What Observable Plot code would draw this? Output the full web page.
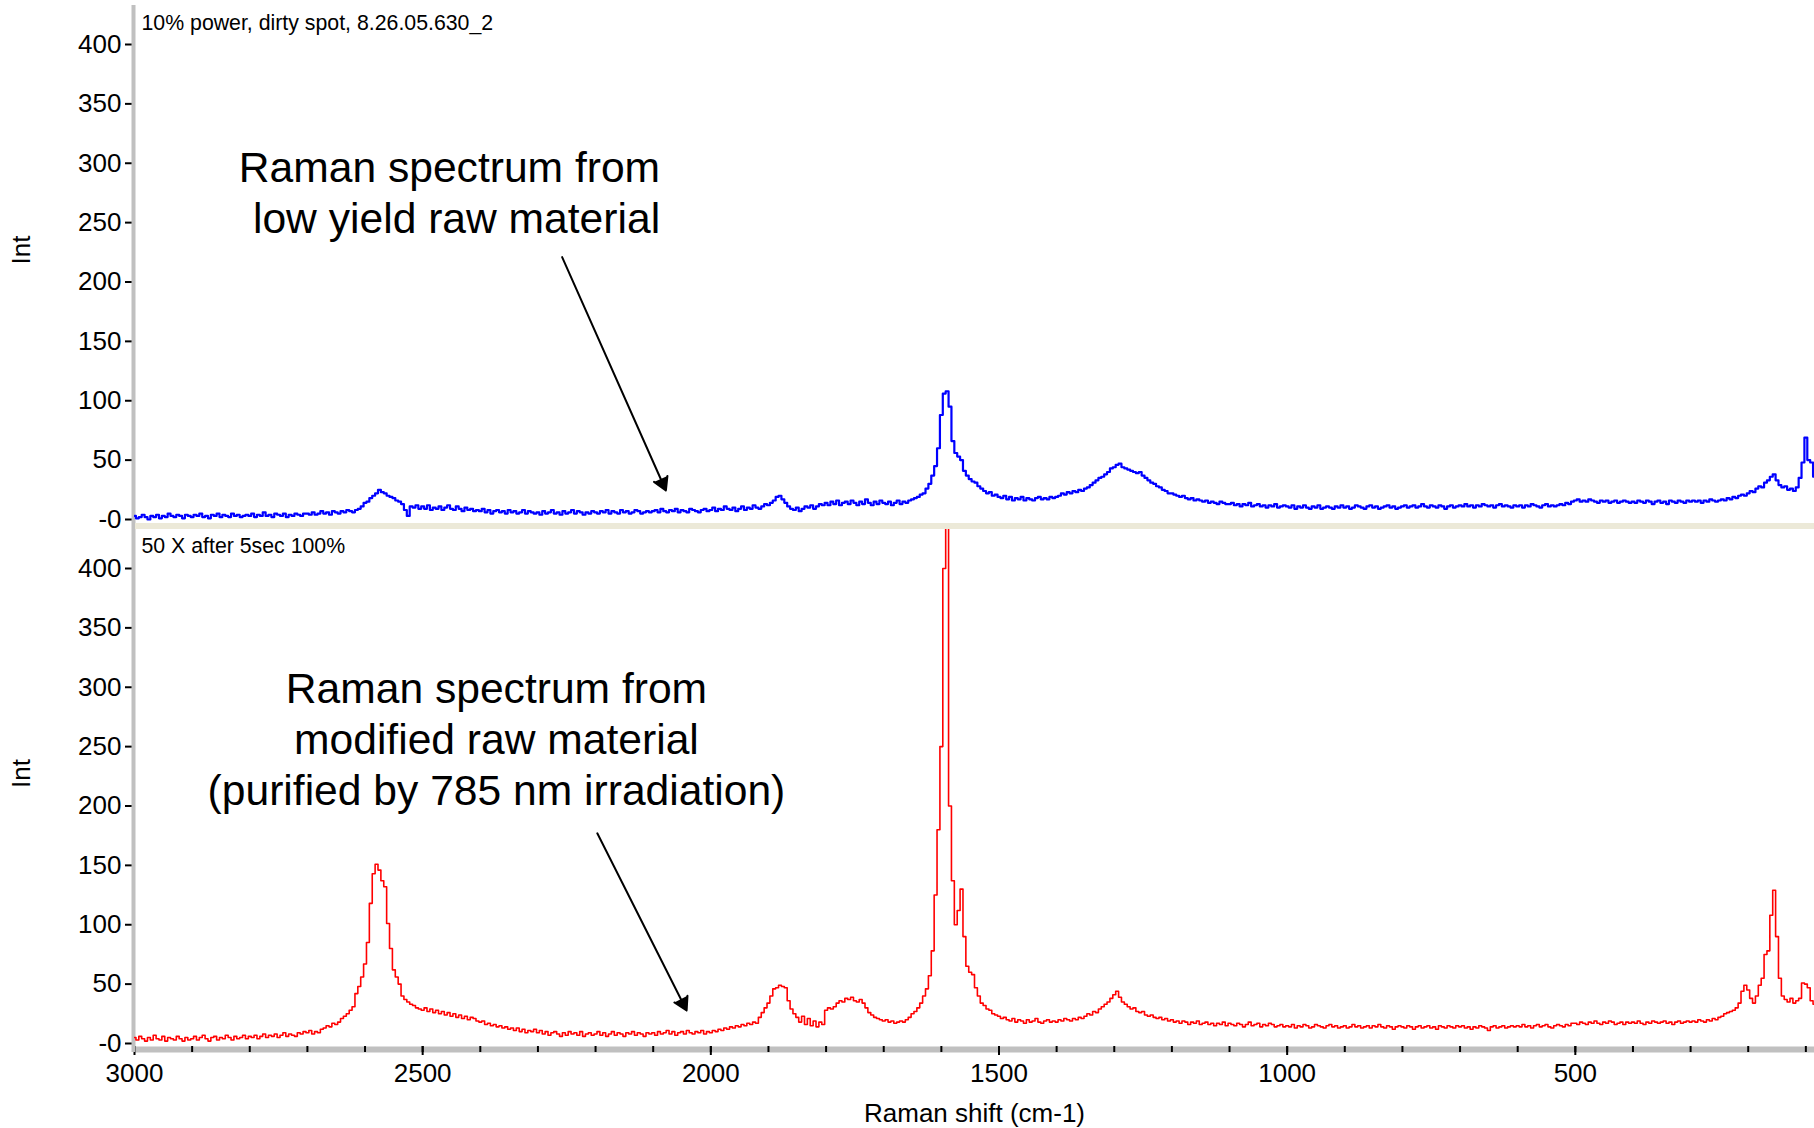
<!DOCTYPE html>
<html>
<head>
<meta charset="utf-8">
<script src="https://cdn.jsdelivr.net/npm/d3@7"></script>
<script src="https://cdn.jsdelivr.net/npm/@observablehq/plot@0.6"></script>
<style>
html, body { margin: 0; padding: 0; background: #fff; }
#chart { position: relative; width: 1814px; height: 1128px; overflow: hidden; background: #fff; }
#top { position: absolute; left: 0; top: 0; }
#bottom { position: absolute; left: 0; top: 523px; }
#sep { position: absolute; left: 135px; top: 523px; width: 1679px; height: 6px; background: #ece9d8; z-index: 5; }
</style>
</head>
<body>
<div id="chart"><div id="top"></div><div id="bottom"></div><div id="sep"></div></div>
<script>
// ---------- data ----------
// Raman shift grid: 3000 → 85 cm-1, every 5 cm-1 (584 samples)
const shiftStart = 3000, shiftStep = 5, shiftCount = 584;

// Top panel: "10% power, dirty spot" (blue) — 20 values per 100 cm-1
const intensityTop = [
  3,1,2,4,2,0,3,2,4,1,3,2,5,3,2,4,3,1,4,3,            // 3000-2905
  2,4,3,5,2,3,1,4,3,5,2,4,3,2,5,3,4,2,3,4,            // 2900-2805
  3,5,2,4,3,6,3,4,2,5,4,3,5,2,4,3,5,4,3,5,            // 2800-2705
  5,4,6,4,5,7,5,6,4,7,6,5,7,6,8,7,6,8,9,11,           // 2700-2605
  14,15,18,20,22,25,23,22,20,19,18,16,15,13,8,3,11,10,12,9, // 2600-2505
  11,9,12,8,10,9,11,8,10,12,9,8,11,9,7,10,8,9,7,8,    // 2500-2405
  7,9,6,8,5,7,8,6,7,5,8,6,7,5,6,8,5,7,6,5,            // 2400-2305
  6,4,7,5,6,8,5,6,4,7,5,6,8,5,7,6,4,6,5,7,            // 2300-2205
  6,5,7,6,8,5,7,6,5,8,6,7,5,6,8,7,5,6,7,6,            // 2200-2105
  7,8,6,9,7,6,8,7,9,6,8,7,6,9,8,7,6,8,9,7,            // 2100-2005
  8,10,7,9,8,11,9,8,10,7,9,11,8,10,9,12,10,9,11,13,   // 2000-1905
  12,14,16,19,20,17,14,11,9,8,10,7,9,11,10,12,9,11,13,12, // 1900-1805
  14,12,15,13,16,12,14,15,13,16,14,12,15,13,17,14,12,15,13,16, // 1800-1705
  14,13,15,12,14,16,13,15,14,16,17,18,19,21,22,26,30,37,45,60, // 1700-1605
  88,106,108,95,66,56,53,50,41,37,34,32,31,28,26,24,22,23,20,21, // 1600-1505
  19,18,20,17,19,16,18,17,19,16,18,17,16,18,19,17,18,17,19,18, // 1500-1405
  19,20,22,21,23,22,24,23,25,24,26,27,29,31,33,35,36,38,40,43, // 1400-1305
  44,46,47,44,43,42,41,40,39,40,37,35,33,31,30,28,27,25,24,22, // 1300-1205
  22,21,20,19,20,18,17,18,16,17,16,15,16,14,15,14,13,15,14,13, // 1200-1105
  13,14,12,13,11,13,12,14,11,12,13,11,12,10,12,11,13,10,11,12, // 1100-1005
  11,10,12,9,11,10,12,10,9,11,10,12,9,10,11,10,9,11,10,12,     // 1000-905
  10,11,9,10,12,11,10,9,11,12,10,11,9,10,11,12,10,11,9,10,     // 900-805
  11,12,10,11,12,10,11,13,11,10,12,11,10,12,11,9,11,12,10,11,  // 800-705
  12,11,13,11,12,10,12,11,13,12,11,12,10,12,13,11,12,11,10,12, // 700-605
  11,12,10,12,11,13,12,11,10,12,13,11,12,11,12,13,12,14,13,15, // 600-505
  16,17,15,16,15,17,16,15,14,16,15,16,14,15,16,14,15,16,15,14, // 500-405
  15,14,16,15,14,16,15,13,15,16,14,15,13,16,15,14,16,15,14,16, // 400-305
  15,16,15,16,14,16,15,17,16,15,16,17,16,18,17,19,18,20,21,20, // 300-205
  22,24,23,26,28,27,31,33,36,38,33,29,27,28,25,26,24,27,35,48, // 200-105
  69,50,48,36                                                  // 100-85
];

// Bottom panel: "50 X after 5sec 100%" (red)
const intensityBottom = [
  5,3,6,4,2,5,3,7,4,3,6,2,5,4,3,6,4,2,5,3,            // 3000-2905
  4,6,3,5,7,4,2,5,6,3,5,4,7,5,3,6,4,5,7,4,            // 2900-2805
  6,5,7,4,6,8,5,7,6,8,5,7,9,6,8,7,6,9,8,10,           // 2800-2705
  9,11,8,10,9,12,13,15,14,17,16,18,21,23,25,28,31,42,48,56, // 2700-2605
  67,85,118,143,151,146,137,132,101,80,62,56,50,40,37,35,33,32,30,29, // 2600-2505
  28,30,27,29,26,28,25,27,24,26,23,25,22,24,21,23,20,22,21,19, // 2500-2405
  18,19,16,17,15,16,14,15,13,14,12,13,11,13,10,12,9,11,10,12,  // 2400-2305
  9,11,8,10,7,9,10,8,6,9,7,10,8,9,7,10,6,8,9,7,                // 2300-2205
  8,10,7,9,6,8,10,7,9,8,6,9,8,10,7,9,8,6,9,8,                  // 2200-2105
  9,7,10,8,9,11,8,10,7,9,10,8,11,9,8,10,9,11,8,10,             // 2100-2005
  9,11,10,12,11,13,12,14,13,15,14,16,15,17,16,18,17,22,26,30,  // 2000-1905
  34,40,46,47,49,48,47,36,29,25,22,18,23,16,21,15,19,14,18,16, // 1900-1805
  28,30,29,31,34,36,35,38,37,39,36,35,37,34,30,26,24,22,21,20, // 1800-1705
  19,20,18,19,17,18,19,18,20,22,25,27,30,34,40,46,57,78,125,180, // 1700-1605
  250,400,450,200,137,100,112,130,90,65,60,58,47,40,34,32,29,28,25,24, // 1600-1505
  23,21,22,20,19,21,18,20,19,17,20,18,19,21,18,17,19,20,18,19, // 1500-1405
  18,20,19,21,20,19,21,20,22,21,23,25,24,27,26,29,31,33,35,38, // 1400-1305
  41,44,39,35,33,31,29,30,27,26,27,24,23,24,22,21,22,20,21,19, // 1300-1205
  20,18,19,17,19,18,16,18,17,19,16,17,18,16,17,15,17,16,18,15, // 1200-1105
  17,16,15,17,16,14,16,18,15,16,17,14,16,15,17,16,14,15,16,14, // 1100-1005
  15,14,16,13,15,14,16,15,13,14,16,15,14,13,15,16,14,15,13,14, // 1000-905
  15,13,14,16,14,15,13,14,15,13,15,14,16,14,13,15,14,12,14,15, // 900-805
  14,13,15,14,12,14,15,13,14,15,13,14,12,15,14,13,15,14,13,15, // 800-705
  14,15,13,14,12,14,13,15,14,13,11,14,15,13,14,15,13,14,15,14, // 700-605
  15,14,16,14,15,13,15,16,14,15,16,14,13,15,16,15,14,16,15,17, // 600-505
  17,16,18,17,16,18,17,19,17,16,18,17,19,18,16,17,18,16,18,17, // 500-405
  18,17,19,17,16,18,17,19,18,17,18,19,17,18,16,18,19,17,18,19, // 400-305
  18,19,18,20,19,18,20,19,21,20,22,23,25,26,27,28,30,34,44,49, // 300-205
  45,38,34,40,49,55,75,78,108,129,90,55,40,37,35,38,34,36,38,51, // 200-105
  50,47,36,33                                                  // 100-85
];

const yTicks = [0, 50, 100, 150, 200, 250, 300, 350, 400];
const xMajorTicks = [3000, 2500, 2000, 1500, 1000, 500];
const xMinorTicks = [3000,2900,2800,2700,2600,2500,2400,2300,2200,2100,2000,1900,1800,1700,1600,1500,1400,1300,1200,1100,1000,900,800,700,600,500,400,300,200,100];

const topLabel = "10% power, dirty spot, 8.26.05.630_2";
const bottomLabel = "50 X after 5sec 100%";
const topNote = "Raman spectrum from\nlow yield raw material";
const bottomNote = "Raman spectrum from\nmodified raw material\n(purified by 785 nm irradiation)";
const yTitle = "Int";
const xTitle = "Raman shift (cm-1)";

// annotation anchors (data units)
const topNotePos = {x: 2088, y: 276.6};
const bottomNotePos = {x: 2372, y: 257.7};
const topArrow = [{x1: 2258, y1: 221, x2: 2078, y2: 24.4}];
const bottomArrow = [{x1: 2197, y1: 177, x2: 2042, y2: 27.8}];

// ---------- build ----------
const shift = d3.range(shiftCount).map(i => shiftStart - i * shiftStep);
const topData = shift.map((s, i) => ({shift: s, int: intensityTop[i]}));
const bottomData = shift.map((s, i) => ({shift: s, int: intensityBottom[i]}));

const FONT = '"Liberation Sans", Arial, Helvetica, sans-serif';
const xDomain = [3000, 85];
const fmtY = d => d === 0 ? "-0" : String(d);
const fmtX = d => String(d);
const baseStyle = {fontFamily: FONT, color: "black", background: "transparent", maxWidth: "none", overflow: "visible"};

const topPlot = Plot.plot({
  width: 1814, height: 523,
  marginTop: 5, marginBottom: 0, marginLeft: 134, marginRight: 0,
  style: baseStyle,
  x: {domain: xDomain, axis: null},
  y: {domain: [-3.37, 432.84], axis: null},
  marks: [
    Plot.axisY({ticks: yTicks, tickFormat: fmtY, tickSize: 9, tickPadding: 4, fontSize: 26, strokeWidth: 2, label: null}),
    Plot.ruleX([3000], {stroke: "#c0c0c0", strokeWidth: 4, dx: -1}),
    Plot.line(topData, {x: "shift", y: "int", curve: "step", stroke: "#0000ff", strokeWidth: 2.2, clip: true}),
    Plot.text([topLabel], {text: d => d, frameAnchor: "top-left", dx: 7, dy: 18, textAnchor: "start", lineAnchor: "middle", fontSize: 21.3}),
    Plot.text([topNote], {text: d => d, x: topNotePos.x, y: topNotePos.y, textAnchor: "end", lineAnchor: "middle", fontSize: 42.6, lineHeight: 1.2}),
    Plot.arrow(topArrow, {x1: "x1", y1: "y1", x2: "x2", y2: "y2", stroke: "black", fill: "black", strokeWidth: 2, headLength: 11, headAngle: 60}),
    Plot.text([yTitle], {text: d => d, frameAnchor: "left", dx: -113, rotate: -90, fontSize: 26})
  ]
});

const bottomPlot = Plot.plot({
  width: 1814, height: 605,
  marginTop: 6, marginBottom: 82, marginLeft: 134, marginRight: 0,
  style: baseStyle,
  x: {domain: xDomain, axis: null},
  y: {domain: [-2.53, 432.84], axis: null},
  marks: [
    Plot.ruleY([-2.53], {stroke: "#c0c0c0", strokeWidth: 6, dy: 3, x1: 3000, x2: 85}),
    Plot.axisX({ticks: xMinorTicks, tickFormat: () => "", tickSize: 6, strokeWidth: 2, label: null}),
    Plot.axisX({ticks: xMajorTicks, tickFormat: fmtX, tickSize: 9, tickPadding: 8, fontSize: 26, strokeWidth: 2, label: null}),
    Plot.axisY({ticks: yTicks, tickFormat: fmtY, tickSize: 9, tickPadding: 4, fontSize: 26, strokeWidth: 2, label: null}),
    Plot.ruleX([3000], {y1: 437.9, y2: -7.6, stroke: "#c0c0c0", strokeWidth: 4, dx: -1}),
    Plot.line(bottomData, {x: "shift", y: "int", curve: "step", stroke: "#ff0000", strokeWidth: 1.6, clip: true}),
    Plot.text([bottomLabel], {text: d => d, frameAnchor: "top-left", dx: 7, dy: 17, textAnchor: "start", lineAnchor: "middle", fontSize: 21.3}),
    Plot.text([bottomNote], {text: d => d, x: bottomNotePos.x, y: bottomNotePos.y, textAnchor: "middle", lineAnchor: "middle", fontSize: 42.6, lineHeight: 1.2}),
    Plot.arrow(bottomArrow, {x1: "x1", y1: "y1", x2: "x2", y2: "y2", stroke: "black", fill: "black", strokeWidth: 2, headLength: 11, headAngle: 60}),
    Plot.text([yTitle], {text: d => d, frameAnchor: "left", dx: -113, rotate: -90, fontSize: 26}),
    Plot.text([xTitle], {text: d => d, frameAnchor: "bottom", dy: 67, lineAnchor: "middle", fontSize: 26})
  ]
});

document.getElementById("top").appendChild(topPlot);
document.getElementById("bottom").appendChild(bottomPlot);
</script>
</body>
</html>
